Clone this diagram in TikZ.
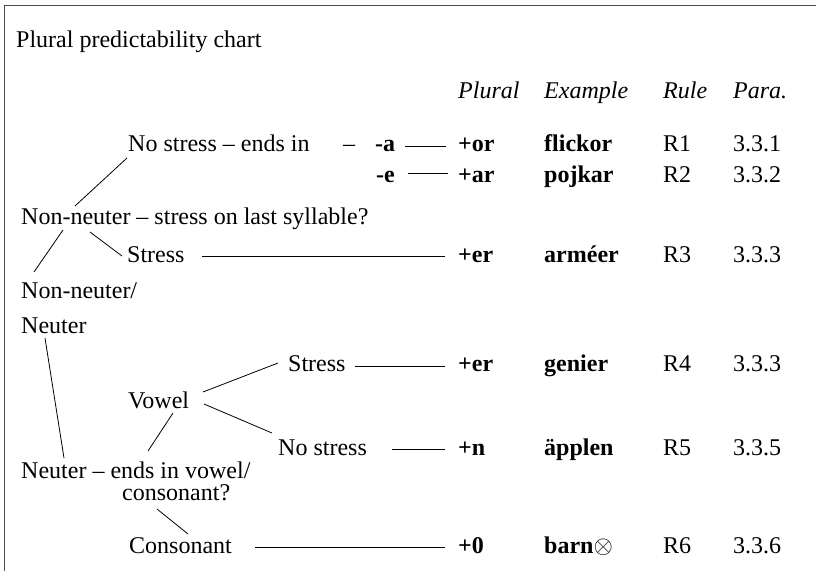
\documentclass[tikz,border=0pt]{standalone}
\usepackage{fontspec}
\setmainfont{Liberation Serif}
\begin{document}
\begin{tikzpicture}[x=1pt,y=-1pt,
  txt/.style={anchor=base west,inner sep=0pt,font=\fontsize{24}{28}\selectfont},
  hd/.style={txt,font=\fontsize{24}{28}\selectfont\itshape},
  bd/.style={txt,font=\fontsize{24}{28}\selectfont\bfseries},
  conn/.style={line width=0.8pt,black},
  frame/.style={line width=1.3pt,black!70}]
\useasboundingbox (0,0) rectangle (816,571);
\coordinate (fTL) at (4.5,5.5);
\coordinate (fTR) at (816,5.5);
\coordinate (fBL) at (4.5,571);
\draw[frame] (fTR) -- (fTL) -- (fBL);

\node[txt] (title) at (16,47) {Plural predictability chart};
% header
\node[hd] (hP) at (458,98) {Plural};
\node[hd] (hE) at (544,98) {Example};
\node[hd] (hR) at (663,98) {Rule};
\node[hd] (hPa) at (733,98) {Para.};
% row 1
\node[txt] (ns1) at (128,151) {No stress -- ends in};
\node[txt] (d1) at (343,151) {--};
\node[bd] (a) at (375,151) {-a};
\node[bd] (or) at (458,151) {+or};
\node[bd] (ex1) at (544,151) {flickor};
\node[txt] (r1) at (663,151) {R1};
\node[txt] (p1) at (733,151) {3.3.1};
% row 2
\node[bd] (e) at (376,182) {-e};
\node[bd] (ar) at (458,182) {+ar};
\node[bd] (ex2) at (544,182) {pojkar};
\node[txt] (r2) at (663,182) {R2};
\node[txt] (p2) at (733,182) {3.3.2};
% non-neuter
\node[txt] (nn) at (21,224) {Non-neuter -- stress on last syllable?};
\node[txt] (st1) at (127,262) {Stress};
\node[bd] (er1) at (458,262) {+er};
\node[bd] (ex3) at (544,262) {arm\'eer};
\node[txt] (r3) at (663,262) {R3};
\node[txt] (p3) at (733,262) {3.3.3};
\node[txt] (nnn) at (21,298) {Non-neuter/};
\node[txt] (neu) at (21,333) {Neuter};
% neuter
\node[txt] (st2) at (288,371) {Stress};
\node[bd] (er2) at (458,371) {+er};
\node[bd] (ex4) at (544,371) {genier};
\node[txt] (r4) at (663,371) {R4};
\node[txt] (p4) at (733,371) {3.3.3};
\node[txt] (vow) at (128,408) {Vowel};
\node[txt] (ns2) at (278,455) {No stress};
\node[bd] (n) at (458,455) {+n};
\node[bd] (ex5) at (544,455) {äpplen};
\node[txt] (r5) at (663,455) {R5};
\node[txt] (p5) at (733,455) {3.3.5};
\node[txt] (ne) at (21,478) {Neuter -- ends in vowel/};
\node[txt] (cq) at (122,500) {consonant?};
\node[txt] (con) at (129,553) {Consonant};
\node[bd] (zero) at (458,553) {+0};
\node[bd] (ex6) at (544,553) {barn$\otimes$};
\node[txt] (r6) at (663,553) {R6};
\node[txt] (p6) at (733,553) {3.3.6};

% connector end points
\coordinate (c1a) at (75,206);  \coordinate (c1b) at (127,158);
\coordinate (c2a) at (63,230);  \coordinate (c2b) at (34,272);
\coordinate (c3a) at (90,232);  \coordinate (c3b) at (122,256);
\coordinate (c4a) at (45,338);  \coordinate (c4b) at (64,458);
\coordinate (c5a) at (173,413); \coordinate (c5b) at (148,451);
\coordinate (c6a) at (203,392); \coordinate (c6b) at (278,363);
\coordinate (c7a) at (204,404); \coordinate (c7b) at (272,433);
\coordinate (c8a) at (157,509); \coordinate (c8b) at (188,534);
\coordinate (h1a) at (405,146); \coordinate (h1b) at (446,146);
\coordinate (h2a) at (408,173); \coordinate (h2b) at (448,173);
\coordinate (h3a) at (202,256); \coordinate (h3b) at (445,256);
\coordinate (h4a) at (355,366); \coordinate (h4b) at (445,366);
\coordinate (h5a) at (392,449); \coordinate (h5b) at (445,449);
\coordinate (h6a) at (255,547); \coordinate (h6b) at (445,547);
\foreach \p in {c1,c2,c3,c4,c5,c6,c7,c8,h1,h2,h3,h4,h5,h6}
  \draw[conn] (\p a) -- (\p b);
\end{tikzpicture}
\end{document}
